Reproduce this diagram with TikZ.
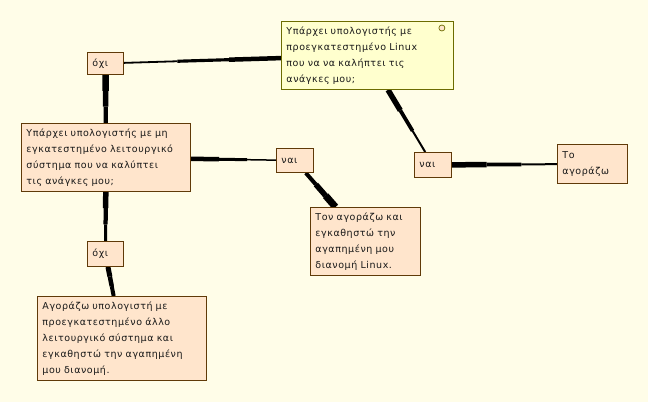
\documentclass[tikz,border=0pt]{standalone}
\usepackage{fontspec}
\setmainfont{DejaVu Sans}[LetterSpace=6]
\usetikzlibrary{calc}
\definecolor{paper}{RGB}{255,253,232}
\definecolor{qfill}{RGB}{255,255,206}
\definecolor{qdraw}{RGB}{108,108,0}
\definecolor{afill}{RGB}{255,229,204}
\definecolor{adraw}{RGB}{96,58,8}
\pgfdeclarelayer{bg}
\pgfdeclarelayer{links}
\pgfsetlayers{bg,links,main}
\tikzset{
  qbox/.style={rectangle, draw=qdraw, fill=qfill, anchor=north west, align=left,
               inner xsep=5pt, inner ysep=2pt, line width=0.9pt, text=black!90,
               font=\fontsize{9.5}{16}\selectfont},
  abox/.style={qbox, draw=adraw, fill=afill},
  qdot/.style={circle, draw=qdraw, fill=afill, line width=0.7pt, inner sep=0pt,
               minimum size=6pt}
}
% stepped link: thick end, thin end, thick width, thin width
\newcommand{\taper}[4]{%
  \path (#1) -- coordinate[pos=.33] (#1#2a) coordinate[pos=.66] (#1#2b) (#2);
  \draw[line width=#3] (#1) -- (#1#2a);
  \draw[line width={(#3+#4)/2}] (#1#2a) -- (#1#2b);
  \draw[line width=#4] (#1#2b) -- (#2);
}
\begin{document}
\begin{tikzpicture}[x=1pt, y=-1pt]
  \begin{pgfonlayer}{bg}
    \fill[paper] (0,0) rectangle (648,402);
  \end{pgfonlayer}
  \useasboundingbox (0,0) rectangle (648,402);

  \node[qbox, text width=162pt, minimum height=68pt] (q1) at (281,21)
    {Υπάρχει υπολογιστής με\\προεγκατεστημένο Linux\\που να να καλήπτει τις\\ανάγκες μου;};
  \node[qdot] (q1dot) at ([xshift=-12pt, yshift=-7pt]q1.north east) {};
  \node[abox, text width=26pt, minimum height=22pt] (oxi1) at (87,52) {όχι};
  \node[abox, text width=159pt, minimum height=68pt] (q2) at (21,123)
    {Υπάρχει υπολογιστής με μη\\εγκατεστημένο λειτουργικό\\σύστημα που να καλύπτει\\τις ανάγκες μου;};
  \node[abox, text width=27pt, minimum height=24pt] (nai1) at (276,148) {ναι};
  \node[abox, text width=27pt, minimum height=25pt] (nai2) at (414,152) {ναι};
  \node[abox, text width=60pt, minimum height=39pt] (buy1) at (557,144) {Το\\αγοράζω};
  \node[abox, text width=100pt, minimum height=68pt] (buy2) at (310,207)
    {Τον αγοράζω και\\εγκαθηστώ την\\αγαπημένη μου\\διανομή Linux.};
  \node[abox, text width=26pt, minimum height=25pt] (oxi2) at (87,241) {όχι};
  \node[abox, text width=159pt, minimum height=84pt] (buy3) at (37,296)
    {Αγοράζω υπολογιστή με\\προεγκατεστημένο άλλο\\λειτουργικό σύστημα και\\εγκαθηστώ την αγαπημένη\\μου διανομή.};

  \begin{pgfonlayer}{links}
    \taper{q1}{oxi1}{4.5pt}{1.8pt}
    \taper{oxi1}{q2}{6.5pt}{4.3pt}
    \taper{q2}{nai1}{4.5pt}{1.5pt}
    \taper{buy2}{nai1}{7pt}{4pt}
    \taper{q1}{nai2}{5.5pt}{2pt}
    \taper{nai2}{buy1}{5.5pt}{2pt}
    \taper{q2}{oxi2}{5.5pt}{3pt}
    \taper{oxi2}{buy3}{5pt}{4pt}
  \end{pgfonlayer}
\end{tikzpicture}
\end{document}
